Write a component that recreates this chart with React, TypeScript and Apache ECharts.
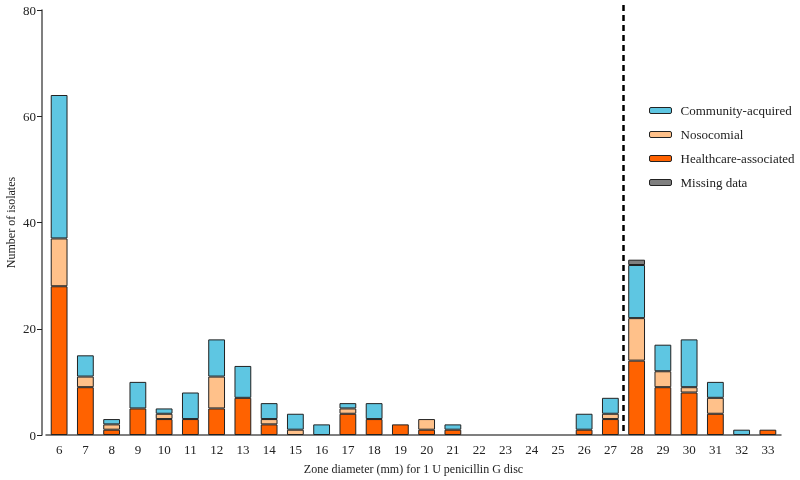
import React, { useEffect, useRef } from "react";
import * as echarts from "echarts";

const categories = ["6","7","8","9","10","11","12","13","14","15","16","17","18","19","20","21","22","23","24","25","26","27","28","29","30","31","32","33"];
const healthcareAssociated = [28, 9, 1, 5, 3, 3, 5, 7, 2, 0, 0, 4, 3, 2, 1, 1, 0, 0, 0, 0, 1, 3, 14, 9, 8, 4, 0, 1];
const nosocomial =           [9, 2, 1, 0, 1, 0, 6, 0, 1, 1, 0, 1, 0, 0, 2, 0, 0, 0, 0, 0, 0, 1, 8, 3, 1, 3, 0, 0];
const communityAcquired =    [27, 4, 1, 5, 1, 5, 7, 6, 3, 3, 2, 1, 3, 0, 0, 1, 0, 0, 0, 0, 3, 3, 10, 5, 9, 3, 1, 0];
const missingData =          [0, 0, 0, 0, 0, 0, 0, 0, 0, 0, 0, 0, 0, 0, 0, 0, 0, 0, 0, 0, 0, 0, 1, 0, 0, 0, 0, 0];
const yTicks = { min: 0, max: 80, interval: 20 };
const breakpointBetween = ["27", "28"];
const yAxisTitle = "Number of isolates";

const FONT = "'Liberation Serif', 'Times New Roman', serif";

export default function App() {
  const ref = useRef<HTMLDivElement>(null);
  useEffect(() => {
    document.body.style.margin = "0";
    const chart = echarts.init(ref.current!, null, { renderer: "svg" });
    const mk = (name: string, data: number[], color: string) => ({
      name,
      type: "bar",
      stack: "total",
      barWidth: "64%",
      data: data.map((v) => (v === 0 ? "-" : v)),
      itemStyle: { color, borderColor: "#222", borderWidth: 1 },
    });
    chart.setOption({
      animation: false,
      textStyle: { fontFamily: FONT },
      grid: { left: 46, right: 19, top: 10, bottom: 45, outerBoundsMode: "none", containLabel: false },
      legend: {
        orient: "vertical",
        left: 644,
        top: 99,
        itemWidth: 22,
        itemHeight: 6,
        itemGap: 11,
        data: ["Community-acquired", "Nosocomial", "Healthcare-associated", "Missing data"],
        textStyle: { fontFamily: FONT, fontSize: 13, color: "#222", padding: [0, 0, 0, 4] },
        itemStyle: { borderColor: "#222", borderWidth: 1 },
      },
      xAxis: {
        type: "category",
        data: categories,
        name: "Zone diameter (mm) for 1 U penicillin G disc",
        nameLocation: "middle",
        nameGap: 28,
        nameTextStyle: { fontFamily: FONT, fontSize: 12, color: "#222" },
        axisLine: { lineStyle: { color: "#555", width: 1.5 } },
        axisTick: { alignWithLabel: true, length: 5, lineStyle: { color: "#222" } },
        axisLabel: { fontFamily: FONT, fontSize: 13, color: "#222", margin: 8 },
      },
      yAxis: {
        type: "value",
        min: yTicks.min,
        max: yTicks.max,
        interval: yTicks.interval,
        offset: 4,
        axisLine: { show: true, lineStyle: { color: "#555", width: 1.5 } },
        axisTick: { show: true, length: 5, lineStyle: { color: "#222" } },
        splitLine: { show: false },
        axisLabel: { fontFamily: FONT, fontSize: 13, color: "#222", margin: 6 },
      },
      series: [
        mk("Healthcare-associated", healthcareAssociated, "#FF6200"),
        mk("Nosocomial", nosocomial, "#FFC18A"),
        mk("Community-acquired", communityAcquired, "#5EC6E2"),
        mk("Missing data", missingData, "#7F7F7F"),
      ],
    });
    const xa = chart.convertToPixel({ xAxisIndex: 0 }, breakpointBetween[0]) as number;
    const xb = chart.convertToPixel({ xAxisIndex: 0 }, breakpointBetween[1]) as number;
    const yTop = chart.convertToPixel({ yAxisIndex: 0 }, yTicks.max) as number;
    const y0 = chart.convertToPixel({ yAxisIndex: 0 }, yTicks.min) as number;
    const xm = (xa + xb) / 2;
    chart.setOption({
      graphic: [
        {
          type: "line",
          shape: { x1: xm, y1: yTop - 5, x2: xm, y2: y0 },
          style: { stroke: "#000", lineWidth: 2.5, lineDash: [6, 4] },
          z: 10,
        },
        {
          type: "text",
          x: 11,
          y: (yTop + y0) / 2,
          rotation: Math.PI / 2,
          style: {
            text: yAxisTitle,
            fontFamily: FONT,
            fontSize: 12,
            fill: "#222",
            align: "center",
            verticalAlign: "middle",
            textAlign: "center",
            textVerticalAlign: "middle",
          },
        },
      ],
    });
    return () => chart.dispose();
  }, []);
  return (
    <div
      ref={ref}
      style={{ position: "fixed", left: 0, top: 0, width: 800, height: 480 }}
    />
  );
}
